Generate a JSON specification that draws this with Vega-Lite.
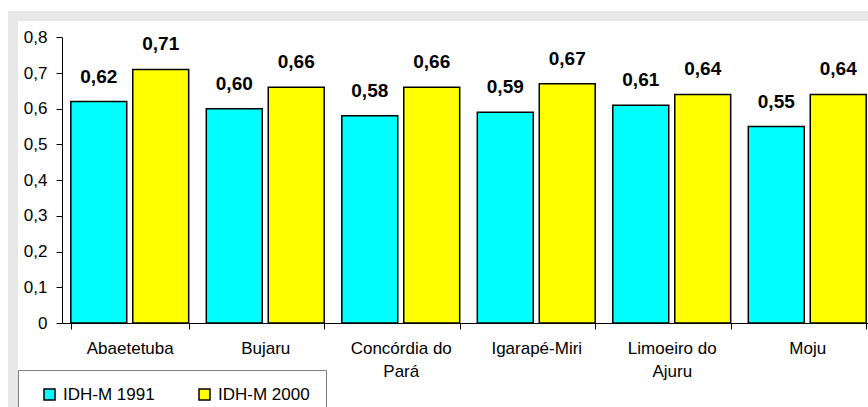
{
  "$schema": "https://vega.github.io/schema/vega-lite/v6.json",
  "autosize": {"type": "none"},
  "padding": {"left": 13, "top": 16, "right": 0, "bottom": 0},
  "width": 870,
  "height": 400,
  "background": "white",
  "config": {
    "font": "Liberation Sans",
    "locale": {"number": {"decimal": ",", "thousands": ".", "grouping": [3], "currency": ["R$", ""]}},
    "view": {"fill": "white", "stroke": "#e8e8e8", "strokeWidth": 10},
    "axis": {"grid": false, "domainColor": "black", "tickColor": "black", "labelColor": "black", "labelFontSize": 17, "title": null, "domainWidth": 1, "tickWidth": 1}
  },
  "data": {
    "values": [
      {"municipio": "Abaetetuba", "serie": "IDH-M 1991", "valor": 0.62},
      {"municipio": "Abaetetuba", "serie": "IDH-M 2000", "valor": 0.71},
      {"municipio": "Bujaru", "serie": "IDH-M 1991", "valor": 0.60},
      {"municipio": "Bujaru", "serie": "IDH-M 2000", "valor": 0.66},
      {"municipio": "Concórdia do Pará", "serie": "IDH-M 1991", "valor": 0.58},
      {"municipio": "Concórdia do Pará", "serie": "IDH-M 2000", "valor": 0.66},
      {"municipio": "Igarapé-Miri", "serie": "IDH-M 1991", "valor": 0.59},
      {"municipio": "Igarapé-Miri", "serie": "IDH-M 2000", "valor": 0.67},
      {"municipio": "Limoeiro do Ajuru", "serie": "IDH-M 1991", "valor": 0.61},
      {"municipio": "Limoeiro do Ajuru", "serie": "IDH-M 2000", "valor": 0.64},
      {"municipio": "Moju", "serie": "IDH-M 1991", "valor": 0.55},
      {"municipio": "Moju", "serie": "IDH-M 2000", "valor": 0.64}
    ]
  },
  "encoding": {
    "x": {
      "field": "municipio", "type": "nominal", "sort": null,
      "scale": {"range": [49, 862], "paddingInner": 0.13, "paddingOuter": 0.065},
      "axis": {
        "offset": -93, "labelAngle": 0, "tickBand": "extent", "tickSize": 6, "labelPadding": 11,
        "labelLineHeight": 23,
        "labelExpr": "datum.value == 'Concórdia do Pará' ? ['Concórdia do', 'Pará'] : datum.value == 'Limoeiro do Ajuru' ? ['Limoeiro do', 'Ajuru'] : datum.value"
      }
    },
    "xOffset": {"field": "serie", "type": "nominal", "scale": {"paddingInner": 0.097}},
    "y": {
      "field": "valor", "type": "quantitative",
      "scale": {"domain": [0, 0.8], "range": [307, 21.3], "nice": false, "zero": true},
      "axis": {"offset": -49, "values": [0, 0.1, 0.2, 0.3, 0.4, 0.5, 0.6, 0.7, 0.8], "format": ".1~f", "tickSize": 6, "labelPadding": 9}
    }
  },
  "layer": [
    {
      "mark": {"type": "bar", "stroke": "black", "strokeWidth": 1.5},
      "encoding": {
        "color": {
          "field": "serie", "type": "nominal",
          "scale": {"domain": ["IDH-M 1991", "IDH-M 2000"], "range": ["#00ffff", "#ffff00"]},
          "legend": {
            "title": null, "orient": "none", "legendX": 5, "legendY": 354,
            "direction": "horizontal", "columns": 2,
            "fillColor": "white", "strokeColor": "#808080", "padding": 16,
            "symbolType": "square", "symbolSize": 121, "symbolStrokeColor": "black", "symbolStrokeWidth": 1.5,
            "symbolOffset": 7, "labelFontSize": 17, "labelOffset": 5, "columnPadding": 34, "labelColor": "black"
          }
        }
      }
    },
    {
      "mark": {"type": "text", "baseline": "alphabetic", "dy": -19, "fontSize": 19, "fontWeight": "bold", "color": "black"},
      "encoding": {
        "text": {"field": "valor", "type": "quantitative", "format": ".2f"}
      }
    }
  ]
}
